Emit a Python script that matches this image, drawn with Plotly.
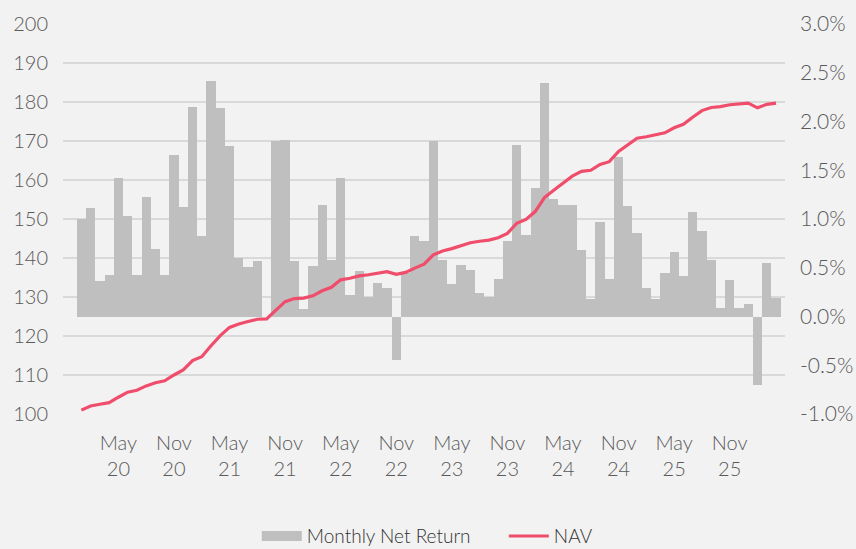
import plotly.graph_objects as go

years = [2020, 2021, 2022, 2023, 2024, 2025, 2026]
month_names = ["Jan", "Feb", "Mar", "Apr", "May", "Jun", "Jul", "Aug", "Sep", "Oct", "Nov", "Dec"]
months = [f"{m} {str(y)[2:]}" for y in years for m in month_names][:76]  # Jan 20 .. Apr 26

monthly_net_return_pct = [
    1.00, 1.11, 0.36, 0.43, 1.42, 1.03, 0.43, 1.23, 0.69, 0.43,
    1.66, 1.12, 2.15, 0.83, 2.42, 2.14, 1.75, 0.60, 0.51, 0.57,
    0.00, 1.80, 1.81, 0.57, 0.08, 0.52, 1.14, 0.58, 1.42, 0.22,
    0.47, 0.20, 0.34, 0.29, -0.45, 0.45, 0.83, 0.77, 1.80, 0.58,
    0.33, 0.53, 0.48, 0.24, 0.20, 0.38, 0.77, 1.76, 0.84, 1.32,
    2.39, 1.21, 1.14, 1.14, 0.68, 0.18, 0.97, 0.38, 1.64, 1.13,
    0.86, 0.29, 0.18, 0.45, 0.66, 0.42, 1.07, 0.88, 0.58, 0.09,
    0.37, 0.09, 0.13, -0.70, 0.55, 0.19,
]

nav = [
    101.0, 102.05, 102.5, 102.9, 104.3, 105.6, 106.1, 107.2, 108.0, 108.5,
    110.0, 111.3, 113.7, 114.7, 117.5, 120.1, 122.2, 123.1, 123.7, 124.3,
    124.4, 126.7, 128.8, 129.6, 129.7, 130.3, 131.6, 132.5, 134.4, 134.8,
    135.4, 135.7, 136.1, 136.5, 135.8, 136.3, 137.4, 138.4, 140.8, 141.8,
    142.4, 143.1, 143.9, 144.3, 144.6, 145.2, 146.3, 148.9, 149.9, 151.9,
    155.5, 157.4, 159.2, 161.0, 162.2, 162.5, 164.0, 164.7, 167.3, 169.0,
    170.7, 171.1, 171.5, 172.1, 173.4, 174.3, 176.1, 177.8, 178.6, 178.8,
    179.3, 179.6, 179.7, 178.5, 179.4, 179.7,
]

tick_months = [m for m in months if m.startswith("May") or m.startswith("Nov")]
tick_text = [m.replace(" ", "<br>") for m in tick_months]

left_ticks = [100, 110, 120, 130, 140, 150, 160, 170, 180, 190, 200]
right_ticks = [-0.010, -0.005, 0.0, 0.005, 0.010, 0.015, 0.020, 0.025, 0.030]
right_tick_text = ["-1.0%", "-0.5%", "0.0%", "0.5%", "1.0%", "1.5%", "2.0%", "2.5%", "3.0%"]

FONT = "Lato"
TXT = "#595959"
BAR_COLOR = "#BFBFBF"

fig = go.Figure()
fig.add_trace(go.Bar(
    x=months, y=[v / 100 for v in monthly_net_return_pct], name="Monthly Net Return",
    marker=dict(color=BAR_COLOR, line=dict(width=0)), yaxis="y", showlegend=False,
))
# legend-only entry drawn as a wide gray swatch
fig.add_trace(go.Scatter(
    x=[None], y=[None], name="Monthly Net Return", mode="lines",
    line=dict(color=BAR_COLOR, width=16), yaxis="y",
))
fig.add_trace(go.Scatter(
    x=months, y=nav, name="NAV", mode="lines",
    line=dict(color="#EF4D6B", width=3.2), yaxis="y2",
))

fig.update_layout(
    width=856, height=549,
    margin=dict(l=63, r=71, t=24, b=135),
    paper_bgcolor="#F2F2F2", plot_bgcolor="#F2F2F2",
    bargap=0,
    showlegend=True,
    legend=dict(orientation="h", x=0.300, xanchor="left", xref="container",
                y=0.058, yanchor="top", yref="container",
                font=dict(family=FONT, size=19, color="#333333", weight=300),
                itemwidth=40, entrywidth=192, traceorder="normal",
                bgcolor="rgba(0,0,0,0)"),
    xaxis=dict(type="category", range=[-1.98, 75.97], tickmode="array",
               tickvals=tick_months, ticktext=tick_text, showgrid=False,
               zeroline=False, showline=False, ticks="", ticklabelstandoff=15,
               tickangle=0, automargin=False,
               tickfont=dict(family=FONT, size=20, color=TXT, weight=300)),
    yaxis=dict(range=[-0.01, 0.03], side="right", automargin=False,
               tickmode="array", tickvals=right_ticks, ticktext=right_tick_text,
               showgrid=False, zeroline=False, showline=False, ticks="",
               ticklabelstandoff=14,
               tickfont=dict(family=FONT, size=21, color=TXT, weight=300)),
    yaxis2=dict(range=[100, 200], overlaying="y", side="left", automargin=False,
                tickmode="array", tickvals=left_ticks,
                showgrid=True, gridcolor="#D9D9D9", gridwidth=2,
                zeroline=False, showline=False, ticks="", ticklabelstandoff=14,
                tickfont=dict(family=FONT, size=20, color=TXT, weight=300)),
)

fig.write_html("out.html", config={"displayModeBar": False},
               post_script="document.body.style.margin='0';")
